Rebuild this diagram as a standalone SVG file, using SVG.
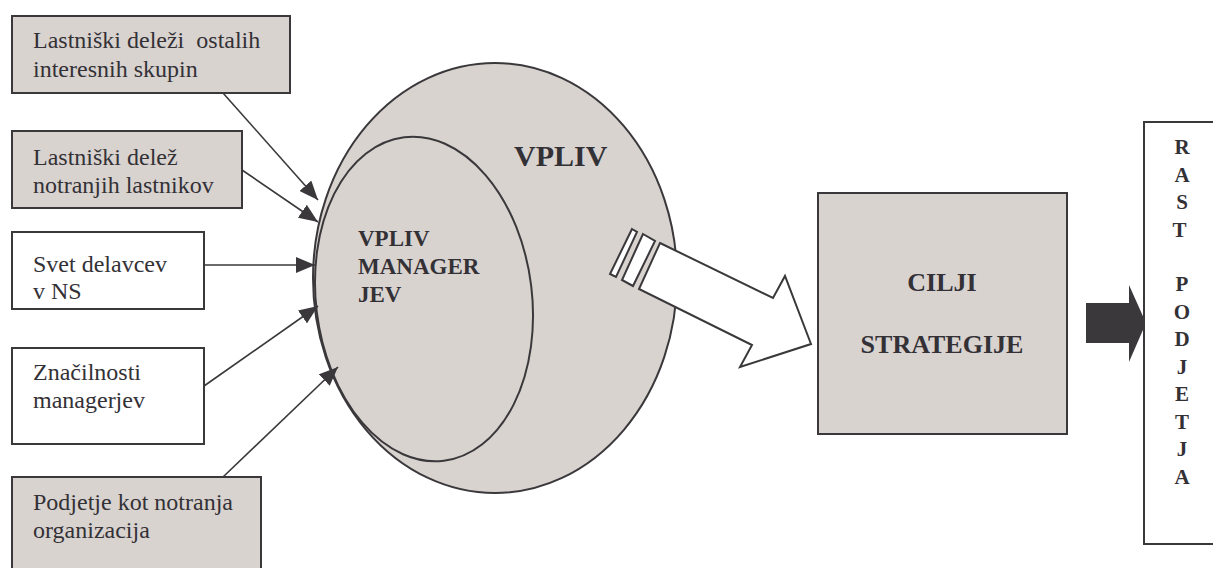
<svg xmlns="http://www.w3.org/2000/svg" width="1213" height="568" viewBox="0 0 1213 568">
<style>
.box{stroke:#3a383b;stroke-width:2}
.g{fill:#d9d3d0}
.w{fill:#ffffff}
.t{font-family:"Liberation Serif","Times New Roman",serif;font-size:24px;fill:#333136;white-space:pre}
.b{font-family:"Liberation Serif","Times New Roman",serif;font-weight:bold;fill:#333136}
.conn{stroke:#3a383b;stroke-width:1.6;fill:none;marker-end:url(#ah)}
</style>
<defs>
<marker id="ah" viewBox="0 0 12 10" refX="12" refY="5" markerWidth="19" markerHeight="16" markerUnits="userSpaceOnUse" orient="auto">
<path d="M0,0 L12,5 L0,10 Z" fill="#3a383b"/>
</marker>
</defs>
<rect width="1213" height="568" fill="#ffffff"/>

<g id="vpliv">
<ellipse cx="495" cy="278" rx="182" ry="215" class="box g" stroke-width="1.8"/>
<text x="514" y="166" class="b" font-size="30">VPLIV</text>
</g>

<g id="vpliv-managerjev">
<ellipse cx="424" cy="299" rx="108" ry="163" transform="rotate(-7 424 299)" class="box g" stroke-width="1.8"/>
<text class="b" font-size="23"><tspan x="358" y="246">VPLIV</tspan><tspan x="358" y="274">MANAGER</tspan><tspan x="358" y="302">JEV</tspan></text>
</g>

<g id="box1">
<rect x="12" y="16" width="278" height="77" class="box g"/>
<text class="t" xml:space="preserve"><tspan x="33" y="48">Lastniški deleži  ostalih</tspan><tspan x="33" y="77">interesnih skupin</tspan></text>
</g>
<g id="box2">
<rect x="12" y="131" width="230" height="77" class="box g"/>
<text class="t"><tspan x="33" y="165">Lastniški delež</tspan><tspan x="33" y="193">notranjih lastnikov</tspan></text>
</g>
<g id="box3">
<rect x="12" y="232" width="192" height="77" class="box w"/>
<text class="t"><tspan x="33" y="272">Svet delavcev</tspan><tspan x="33" y="299">v NS</tspan></text>
</g>
<g id="box4">
<rect x="12" y="348" width="192" height="96" class="box w"/>
<text class="t"><tspan x="33" y="380">Značilnosti</tspan><tspan x="33" y="408">managerjev</tspan></text>
</g>
<g id="box5">
<rect x="12" y="477" width="249" height="100" class="box g"/>
<text class="t"><tspan x="33" y="510">Podjetje kot notranja</tspan><tspan x="33" y="538">organizacija</tspan></text>
</g>

<g id="connectors">
<line x1="223" y1="93" x2="318" y2="200" class="conn"/>
<line x1="242" y1="170" x2="318" y2="222" class="conn"/>
<line x1="204" y1="265" x2="315" y2="265" class="conn"/>
<line x1="204" y1="386" x2="318" y2="306" class="conn"/>
<line x1="223" y1="477" x2="338" y2="367" class="conn"/>
</g>

<g id="big-arrow">
<polygon points="632,229 637,232 616,277 610,274" class="box w" stroke-width="1.6"/>
<polygon points="643,234 655,241 633,286 622,280" class="box w" stroke-width="1.6"/>
<polygon points="660,243 773,298 785,276 811,344 740,367 752,345 639,289" class="box w" stroke-width="1.6"/>
</g>

<g id="cilji">
<rect x="818" y="193" width="249" height="241" class="box g"/>
<text x="942" y="291" class="b" font-size="26" text-anchor="middle">CILJI</text>
<text x="942" y="353" class="b" font-size="26" text-anchor="middle">STRATEGIJE</text>
</g>

<g id="black-arrow">
<polygon points="1086,303 1129,303 1129,285 1146,323 1129,362 1129,343 1086,343" fill="#3a383b"/>
</g>

<g id="rast">
<rect x="1144" y="122" width="80" height="422" class="box w"/>
<text class="b" font-size="21" text-anchor="middle">
<tspan x="1182" y="154">R</tspan><tspan x="1182" y="181.5">A</tspan><tspan x="1182" y="209">S</tspan><tspan x="1182" y="236.5">T</tspan>
<tspan x="1182" y="291">P</tspan><tspan x="1182" y="318.5">O</tspan><tspan x="1182" y="346">D</tspan><tspan x="1182" y="373.5">J</tspan><tspan x="1182" y="401">E</tspan><tspan x="1182" y="428.5">T</tspan><tspan x="1182" y="456">J</tspan><tspan x="1182" y="483.5">A</tspan>
</text>
</g>
</svg>
